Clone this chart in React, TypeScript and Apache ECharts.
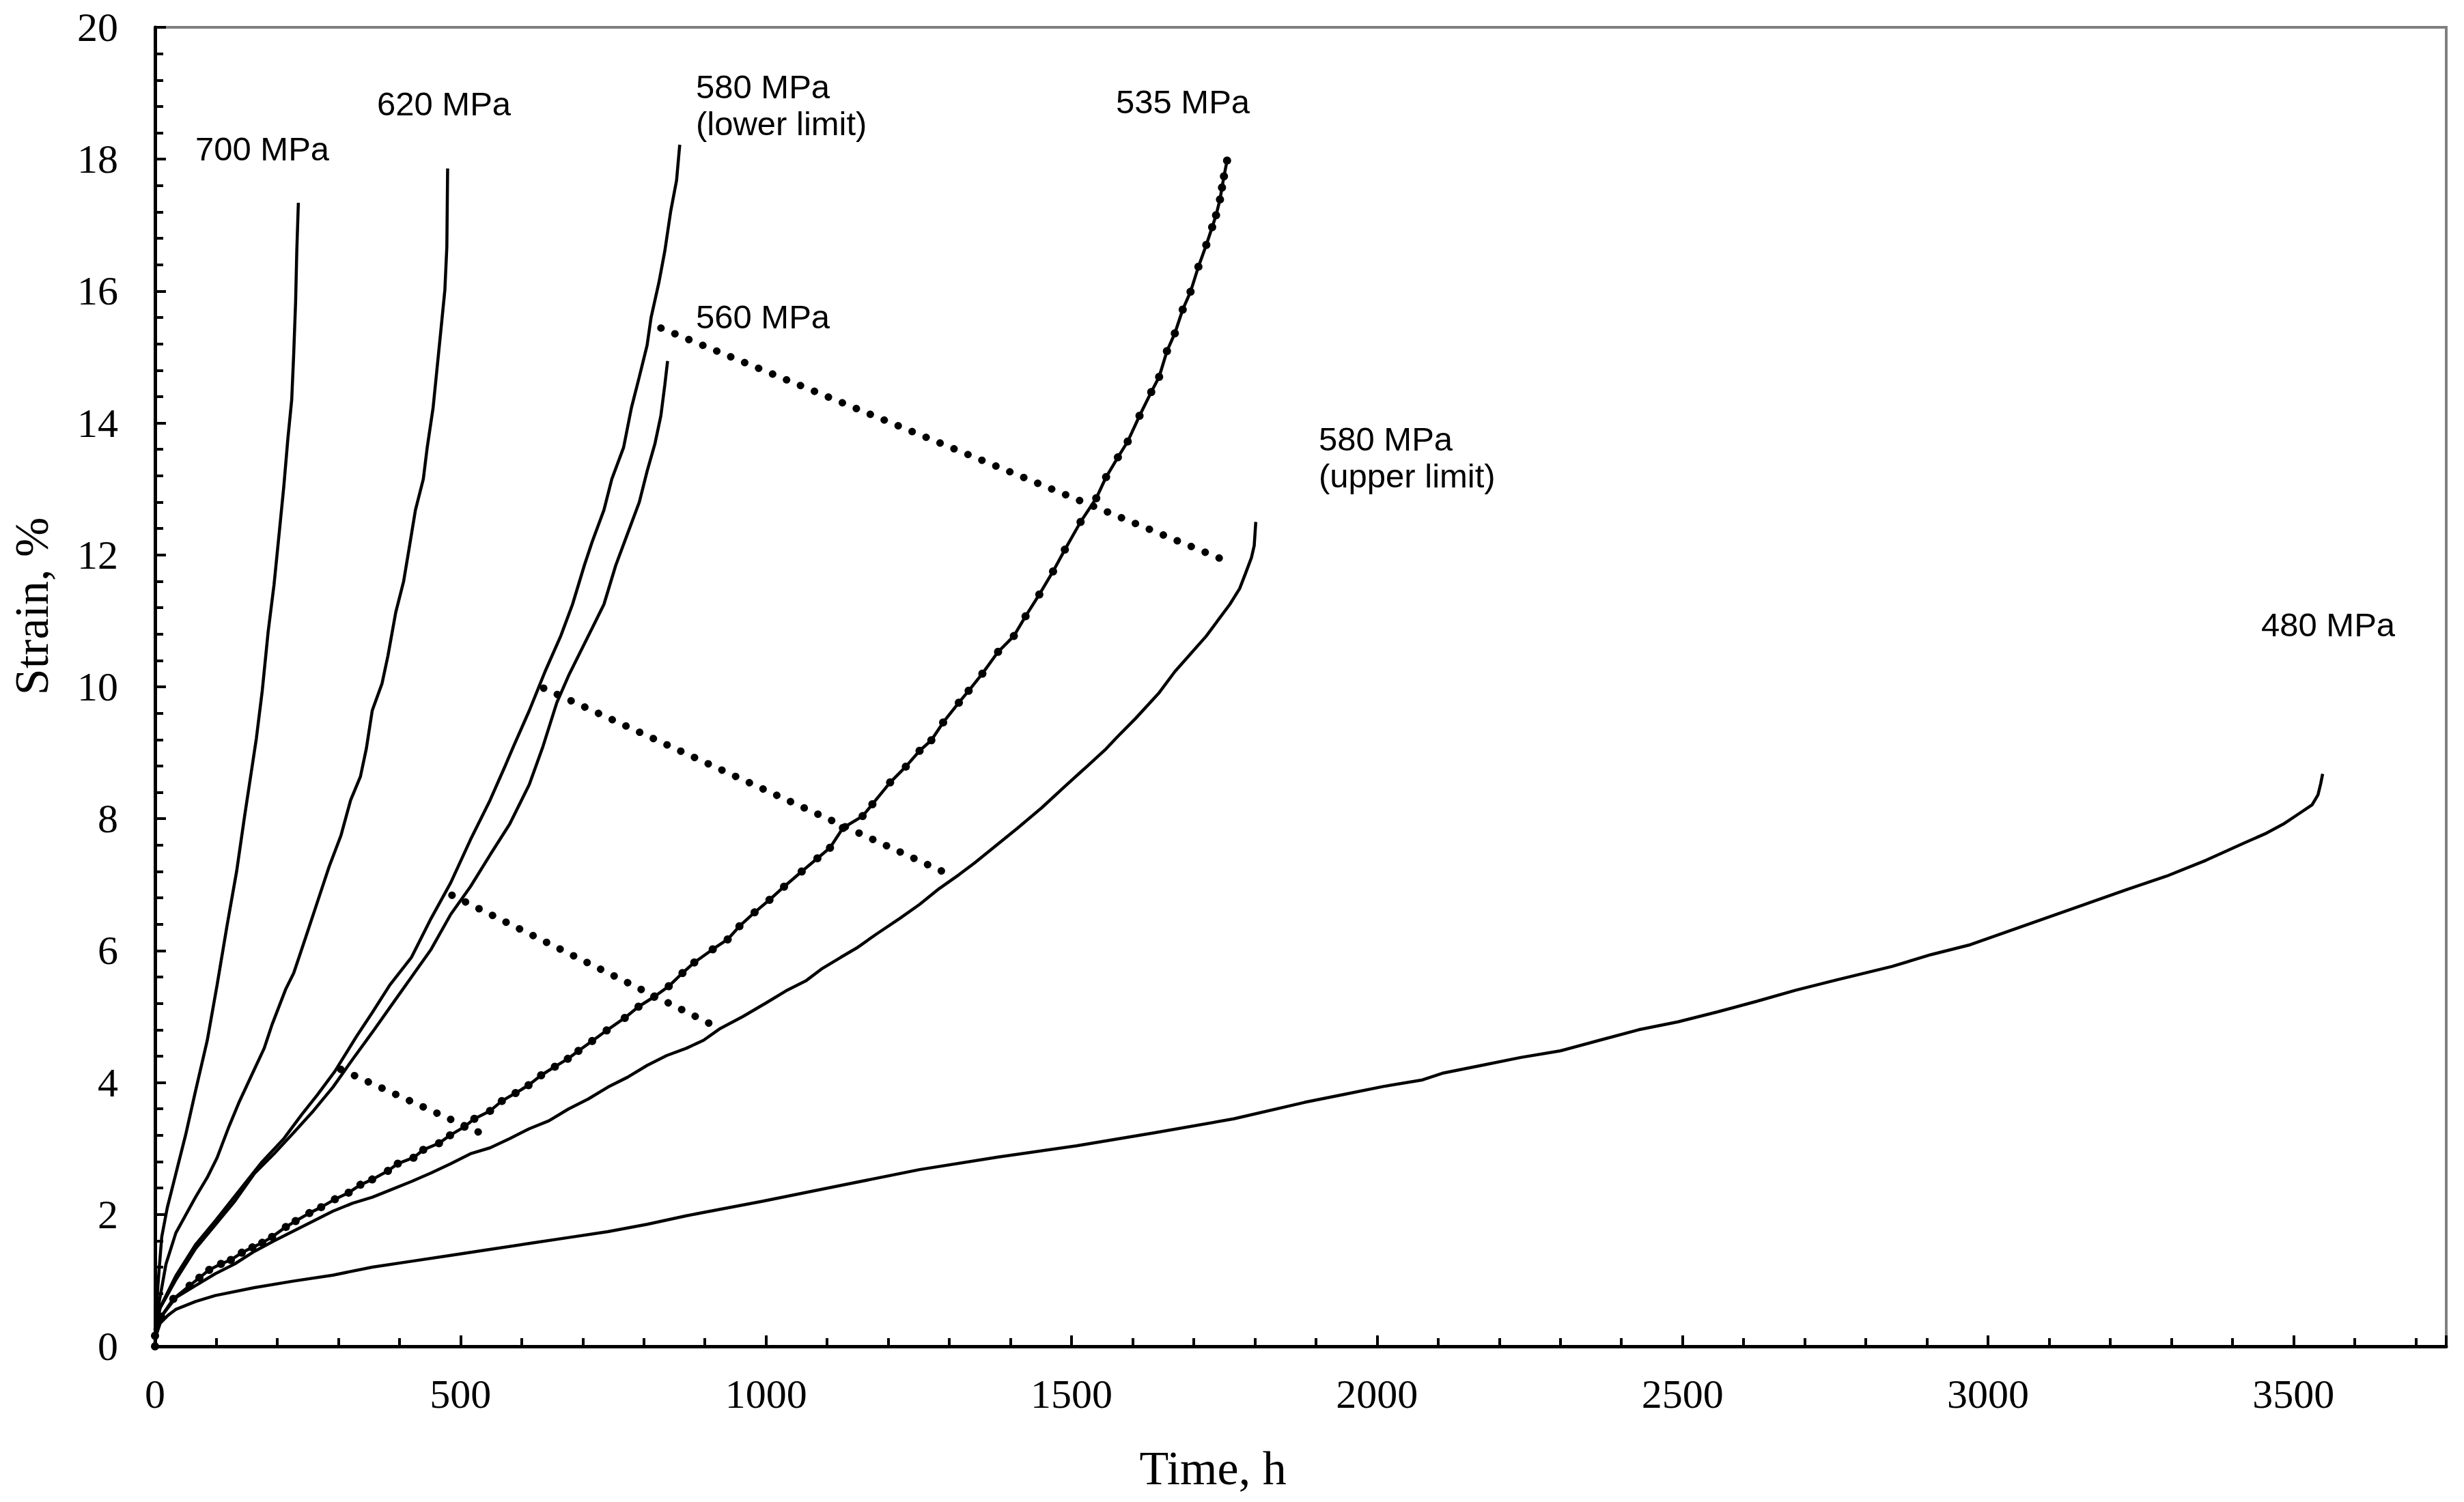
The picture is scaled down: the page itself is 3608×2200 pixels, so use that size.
import React, { useEffect, useRef } from "react";
import * as echarts from "echarts";

// ---- Data (time in h, strain in %) ----
const s700: number[][] = [[0,0.25],[3,0.7],[7,1.2],[11,1.66],[20,2.1],[30.9,2.5],[50.2,3.21],[66.2,3.87],[85.5,4.64],[101.6,5.48],[117.7,6.37],[133.7,7.21],[146.6,8.04],[159.4,8.82],[165.9,9.22],[175.5,9.94],[185.1,10.83],[194.8,11.55],[204.4,12.44],[210.8,13.04],[217.3,13.75],[223.7,14.35],[226.9,15.03],[230.1,15.84],[232,16.6],[234.6,17.34]];
const s620: number[][] = [[0,0.25],[5.2,0.59],[18,1.25],[34.1,1.72],[66.2,2.26],[85.5,2.56],[101.6,2.86],[120.9,3.33],[137,3.69],[162.6,4.2],[178.7,4.52],[191.6,4.88],[214.1,5.42],[227,5.66],[246.2,6.19],[265.5,6.73],[284.8,7.27],[304.1,7.74],[320.1,8.28],[336.2,8.64],[345.8,9.06],[355.5,9.64],[371.5,10.05],[381.2,10.47],[394,11.13],[406.9,11.6],[416.6,12.14],[426.2,12.68],[439.1,13.15],[445.5,13.63],[455.1,14.23],[461.5,14.82],[468,15.42],[474.4,16.02],[477.6,16.67],[478.9,17.86]];
const s580Lower: number[][] = [[0,0.25],[8.4,0.59],[34.1,1.07],[66.2,1.54],[98.4,1.9],[124.1,2.2],[149.8,2.5],[175.5,2.8],[210.9,3.15],[239.8,3.51],[265.5,3.81],[294.4,4.17],[329.8,4.7],[355.5,5.06],[384.4,5.48],[419.8,5.9],[451.9,6.49],[484,7.03],[516.2,7.68],[548.3,8.28],[574,8.82],[586.9,9.1],[612.6,9.64],[638.3,10.23],[664,10.77],[683.3,11.25],[702.6,11.84],[715.5,12.2],[734.7,12.68],[747.6,13.15],[766.9,13.63],[779.7,14.23],[792.6,14.7],[805.4,15.18],[811.9,15.6],[824.7,16.13],[834.4,16.61],[844,17.21],[853.6,17.68],[858.8,18.22]];
const s560: number[][] = [[0,0.25],[8.4,0.58],[34.1,1.01],[66.2,1.48],[98.4,1.84],[130.5,2.2],[162.6,2.62],[194.8,2.92],[226.9,3.24],[259.1,3.57],[291.2,3.93],[323.3,4.35],[355.5,4.76],[387.6,5.18],[419.8,5.6],[451.9,6.02],[484,6.55],[516.2,6.97],[548.3,7.45],[580.5,7.92],[612.6,8.52],[635.1,9.1],[657.6,9.76],[676.9,10.17],[696.2,10.53],[715.5,10.89],[734.7,11.25],[754,11.84],[773.3,12.32],[792.6,12.8],[805.4,13.27],[818.3,13.69],[827.9,14.11],[834.4,14.58],[838.9,14.94]];
const s535: number[][] = [[0,0],[0,0.16],[10,0.45],[30,0.72],[56.6,0.92],[72.6,1.04],[88.7,1.16],[108,1.25],[124.1,1.31],[142.1,1.42],[159.4,1.5],[175.5,1.57],[191.6,1.66],[214.1,1.81],[230.1,1.9],[252.6,2.02],[271.9,2.11],[294.4,2.23],[316.9,2.33],[336.2,2.45],[355.5,2.53],[381.2,2.66],[397.3,2.77],[423,2.86],[439,2.98],[464.8,3.08],[482.8,3.2],[506.5,3.33],[522.6,3.45],[548.3,3.57],[567.6,3.72],[590.1,3.84],[611.3,3.96],[631.9,4.11],[654.4,4.24],[675.6,4.36],[693,4.48],[715.5,4.63],[739.2,4.79],[768.8,4.98],[791.3,5.15],[817,5.3],[840.8,5.46],[863.3,5.66],[882.6,5.82],[912.8,6.02],[937.2,6.17],[956.5,6.37],[981.3,6.58],[1005.7,6.77],[1029.5,6.97],[1058.4,7.2],[1084.1,7.4],[1104.7,7.56],[1125.9,7.86],[1158.1,8.04],[1174.1,8.22],[1203.1,8.55],[1228.8,8.79],[1251.3,9.03],[1270.6,9.19],[1289.9,9.46],[1315.6,9.76],[1331.6,9.94],[1354.1,10.2],[1379.8,10.53],[1405.6,10.77],[1424.8,11.07],[1447.3,11.4],[1469.8,11.75],[1489.1,12.08],[1514.8,12.5],[1540.5,12.86],[1556.6,13.18],[1575.9,13.48],[1592,13.72],[1611.3,14.11],[1630.5,14.47],[1643.4,14.7],[1656.2,15.09],[1669.1,15.36],[1682,15.72],[1694.8,15.99],[1707.7,16.37],[1720.6,16.7],[1730.2,16.97],[1736.6,17.15],[1743,17.39],[1746.3,17.57],[1749.5,17.74],[1754.6,17.98]];
const s580Upper: number[][] = [[0,0.2],[10,0.45],[34.1,0.74],[66.2,0.92],[98.4,1.1],[130.5,1.25],[162.6,1.44],[194.8,1.6],[226.9,1.75],[259.1,1.9],[291.2,2.05],[323.3,2.17],[355.5,2.26],[387.6,2.38],[419.8,2.5],[451.9,2.63],[484,2.77],[516.2,2.92],[548.3,3.01],[580.5,3.15],[612.6,3.3],[644.7,3.42],[676.9,3.6],[709,3.75],[741.2,3.93],[773.3,4.08],[805.4,4.26],[837.6,4.41],[869.7,4.52],[897.7,4.64],[923.5,4.81],[962,5.0],[1000.6,5.21],[1032.7,5.39],[1064.9,5.54],[1090.6,5.72],[1122.7,5.9],[1148.4,6.04],[1180.6,6.25],[1219.1,6.49],[1251.3,6.7],[1283.4,6.94],[1315.6,7.15],[1341.3,7.33],[1373.4,7.57],[1412,7.86],[1450.5,8.16],[1489.1,8.49],[1521.3,8.76],[1556.6,9.06],[1579.1,9.28],[1604.8,9.52],[1643.4,9.91],[1669.1,10.23],[1694.8,10.5],[1720.6,10.77],[1739.8,11.01],[1759.1,11.25],[1775.2,11.49],[1784.8,11.72],[1794.5,11.96],[1799,12.14],[1801.6,12.5]];
const s480: number[][] = [[0,0.05],[3,0.2],[8.4,0.35],[21.2,0.47],[34.1,0.56],[66.2,0.68],[98.4,0.77],[162.6,0.89],[226.9,0.99],[291.2,1.08],[355.5,1.2],[419.8,1.29],[484,1.38],[548.3,1.47],[612.6,1.56],[676.9,1.65],[741.2,1.74],[805.4,1.85],[869.7,1.98],[994.2,2.2],[1122.7,2.44],[1251.3,2.68],[1379.8,2.87],[1508.4,3.04],[1637,3.24],[1765.5,3.45],[1881.8,3.7],[1946,3.82],[2010.3,3.94],[2074.6,4.04],[2106.8,4.14],[2171,4.26],[2235.3,4.38],[2299.6,4.48],[2363.9,4.64],[2428.2,4.8],[2492.4,4.92],[2556.7,5.07],[2621,5.23],[2685.3,5.4],[2749.6,5.55],[2842.6,5.76],[2906.9,5.94],[2971.1,6.09],[3035.4,6.3],[3099.7,6.51],[3164,6.72],[3228.3,6.93],[3292.5,7.13],[3356.8,7.37],[3421.1,7.64],[3453.2,7.77],[3485.4,7.93],[3511.1,8.09],[3530.4,8.21],[3540,8.36],[3544.5,8.53],[3547.7,8.68]];

// dotted connecting lines (start, end)
const link1: number[][] = [[828,15.44],[1753,11.91]];
const link2: number[][] = [[636,9.98],[1289,7.2]];
const link3: number[][] = [[486,6.84],[924,4.82]];
const link4: number[][] = [[304,4.2],[541,3.2]];

const curveLabels: string[] = ["700 MPa","620 MPa","580 MPa\n(lower limit)","560 MPa","535 MPa","580 MPa\n(upper limit)","480 MPa"];

const xTitle = "Time, h";
const yTitle = "Strain, %";

export default function App() {
  const ref = useRef<HTMLDivElement>(null);
  useEffect(() => {
    if (!ref.current) return;
    const chart = echarts.init(ref.current, undefined, { renderer: "svg" });
    const serif = "'Liberation Serif', 'Times New Roman', serif";
    const sans = "'Liberation Sans', Arial, sans-serif";
    const curve = (name: string, data: number[][]) => ({
      name, type: "line", data, showSymbol: false, symbol: "none",
      lineStyle: { color: "#000", width: 4.5 }, z: 3,
    });
    const link = (name: string, data: number[][]) => ({
      name, type: "line", data, showSymbol: false, symbol: "none",
      lineStyle: { color: "#000", width: 11, type: [0.1, 22], cap: "round" }, z: 4,
    });
    const labelPos = [
      [286, 218], [552, 152], [1019, 154], [1019, 464], [1634, 149], [1931, 670], [3311, 915],
    ];
    const graphics: any[] = curveLabels.map((t, i) => ({
      type: "text", x: labelPos[i][0], y: labelPos[i][1], silent: true,
      style: { text: t, fontFamily: sans, fontSize: 49, lineHeight: 54, fill: "#000", align: "left", verticalAlign: "middle" },
    }));
    graphics.push({
      type: "text", x: 1776, y: 2150,
      style: { text: xTitle, fontFamily: serif, fontSize: 70, fill: "#000", align: "center", verticalAlign: "middle" },
    });
    graphics.push({
      type: "text", x: 46, y: 888, rotation: Math.PI / 2,
      style: { text: yTitle, fontFamily: serif, fontSize: 70, fill: "#000", align: "center", verticalAlign: "middle" },
    });
    const tickStyle = { color: "#000", width: 4 };
    chart.setOption({
      animation: false,
      backgroundColor: "#fff",
      grid: { left: 227, right: 26, top: 40, bottom: 228, show: true, borderColor: "#808080", borderWidth: 4, backgroundColor: "transparent" },
      xAxis: [
        {
          type: "value", min: 0, max: 3750, interval: 500, position: "bottom",
          axisLine: { show: true, lineStyle: { color: "#000", width: 5 } },
          axisTick: { show: true, inside: true, length: 16, lineStyle: tickStyle },
          axisLabel: { margin: 40, fontFamily: serif, fontSize: 60, color: "#000", formatter: (v: number) => (v % 500 === 0 ? String(v) : "") },
          splitLine: { show: false },
        },
        {
          type: "value", min: 0, max: 3750, interval: 100, position: "bottom", offset: 0,
          axisLine: { show: false },
          axisTick: { show: true, inside: true, length: 12, lineStyle: tickStyle },
          axisLabel: { show: false },
          splitLine: { show: false },
        },
      ],
      yAxis: [
        {
          type: "value", min: 0, max: 20, interval: 2, position: "left",
          axisLine: { show: true, lineStyle: { color: "#000", width: 5 } },
          axisTick: { show: true, inside: true, length: 16, lineStyle: tickStyle },
          axisLabel: { margin: 54, fontFamily: serif, fontSize: 60, color: "#000" },
          splitLine: { show: false },
        },
        {
          type: "value", min: 0, max: 20, interval: 0.4, position: "left", offset: 0,
          axisLine: { show: false },
          axisTick: { show: true, inside: true, length: 12, lineStyle: tickStyle },
          axisLabel: { show: false },
          splitLine: { show: false },
        },
      ],
      series: [
        curve("700 MPa", s700),
        curve("620 MPa", s620),
        curve("580 MPa (lower limit)", s580Lower),
        curve("560 MPa", s560),
        {
          name: "535 MPa", type: "line", data: s535, showSymbol: true, symbol: "circle", symbolSize: 12,
          itemStyle: { color: "#000" }, lineStyle: { color: "#000", width: 4.5 }, z: 3,
        },
        curve("580 MPa (upper limit)", s580Upper),
        curve("480 MPa", s480),
        link("link1", link1),
        link("link2", link2),
        link("link3", link3),
        link("link4", link4),
      ],
      graphic: graphics,
    });
    return () => chart.dispose();
  }, []);
  return <div ref={ref} style={{ position: "fixed", left: 0, top: 0, width: "3608px", height: "2200px", background: "#fff" }} />;
}
